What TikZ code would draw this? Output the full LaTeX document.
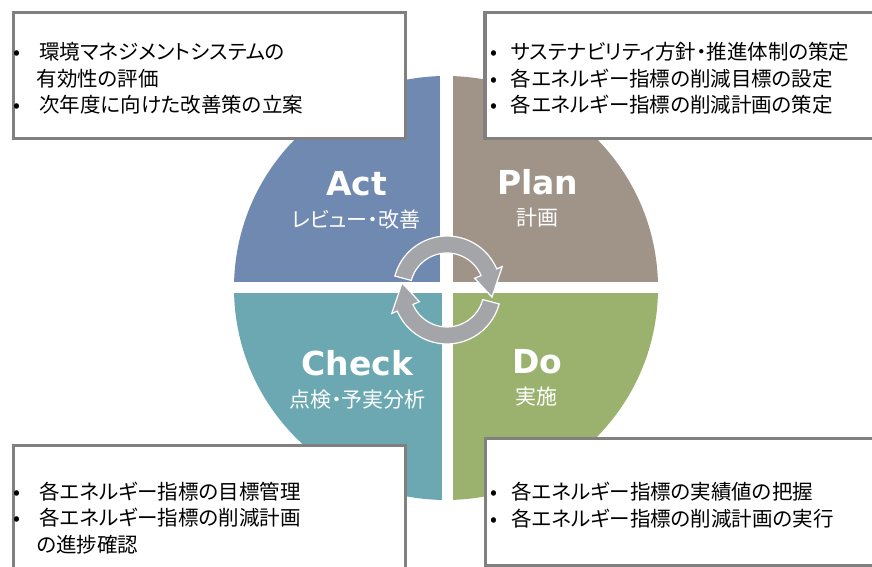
\documentclass[tikz,border=0pt]{standalone}
\usepackage{fontspec}
\setmainfont{DejaVu Sans}
\newfontfamily\jpfont[RawFeature=+palt]{Noto Sans CJK JP}
\definecolor{actblue}{RGB}{111,137,177}
\definecolor{planbrown}{RGB}{160,148,136}
\definecolor{checkteal}{RGB}{107,168,178}
\definecolor{dogreen}{RGB}{155,178,111}
\definecolor{arrowgray}{RGB}{163,165,168}
\definecolor{boxgray}{RGB}{128,128,128}
\newcommand\bul[1][-1pt]{\makebox[25pt][l]{\hspace*{#1}•}}
\tikzset{
  notebox/.style={draw=boxgray,line width=3.3pt,fill=white,inner xsep=1pt,inner ysep=0pt,
    align=left,font=\jpfont\fontsize{20.5}{26.5}\selectfont,
    execute at begin node=\rule{0pt}{24pt}},
  quadtitle/.style={text=white,font=\bfseries\fontsize{33}{33}\selectfont,inner sep=0pt,anchor=base},
  quadsub/.style={text=white,font=\jpfont\fontsize{21}{21}\selectfont,inner sep=0pt}
}
\begin{document}
\begin{tikzpicture}[x=1pt,y=1pt]
\useasboundingbox (0,0) rectangle (872,567);
\clip (0,0) rectangle (872,567);
% PDCA circle
\begin{scope}
\clip (446,279) circle (212);
\fill[actblue] (200,285) rectangle (440,567);
\fill[planbrown] (453,285) rectangle (700,567);
\fill[checkteal] (200,274) rectangle (442,0);
\fill[dogreen] (453,274) rectangle (700,0);
\end{scope}
% cycle arrows
\begin{scope}[shift={(447,277)}]
\filldraw[fill=arrowgray,draw=white,line width=1.2pt] (165:54) arc[start angle=165,end angle=23,radius=54]
  -- (23:60) -- (-9:45.5) -- (23:30) -- (23:37) arc[start angle=23,end angle=165,radius=37] -- cycle;
\filldraw[fill=arrowgray,draw=white,line width=1.2pt] (-15:54) arc[start angle=-15,end angle=-157,radius=54]
  -- (-157:60) -- (-189:45.5) -- (-157:30) -- (-157:37) arc[start angle=-157,end angle=-15,radius=37] -- cycle;
\end{scope}
% quadrant labels
\node[quadtitle] (act) at (356.7,371) {Act};
\node[quadsub] (actsub) at (355.7,347.7) {レビュー・改善};
\node[quadtitle] (plan) at (537.7,372) {Plan};
\node[quadsub] (plansub) at (537,349) {計画};
\node[quadtitle] (check) at (357.5,191) {Check};
\node[quadsub] (checksub) at (357.7,167.7) {点検・予実分析};
\node[quadtitle] (do) at (537.5,193) {Do};
\node[quadsub] (dosub) at (536.7,170.3) {実施};
% notes
\node[notebox,text width=390.2pt,minimum height=126pt] (actbox) at (209.6,491.7)
  {\bul 環境マネジメントシステムの\\\hspace*{22pt}有効性の評価\\\bul 次年度に向けた改善策の立案};
\node[notebox,text width=413pt,minimum height=126pt] (planbox) at (692.5,491.7)
  {\bul[4pt]サステナビリティ方針・推進体制の策定\\\bul[4pt]各エネルギー指標の削減目標の設定\\\bul[4pt]各エネルギー指標の削減計画の策定};
\node[notebox,text width=390.2pt,minimum height=137.6pt] (checkbox) at (209.6,52.5)
  {\bul 各エネルギー指標の目標管理\\\bul 各エネルギー指標の削減計画\\\hspace*{22pt}の進捗確認};
\node[notebox,text width=412.3pt,minimum height=127.4pt] (dobox) at (692.8,65)
  {\bul[4pt]各エネルギー指標の実績値の把握\\\bul[4pt]各エネルギー指標の削減計画の実行};
\end{tikzpicture}
\end{document}
